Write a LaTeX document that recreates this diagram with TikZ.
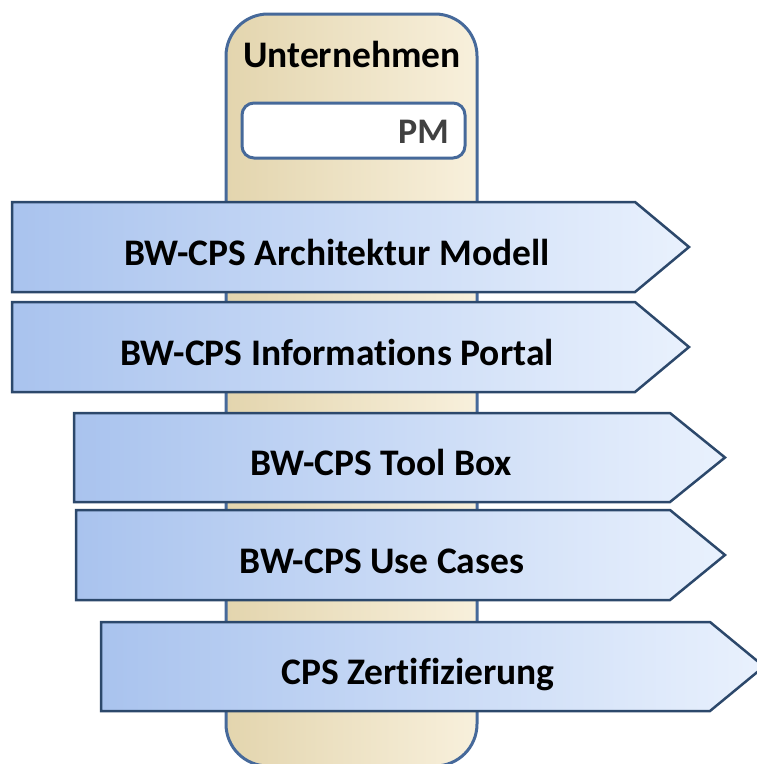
\documentclass[tikz,border=0pt]{standalone}
\usepackage{fontspec}
\setmainfont{Carlito}[Ligatures=NoCommon]
\definecolor{frameline}{HTML}{46699A}
\definecolor{barline}{HTML}{2C486B}
\definecolor{firmleft}{HTML}{E3D5AE}
\definecolor{firmright}{HTML}{F8F0DC}
\definecolor{barleft}{HTML}{A9C3EE}
\definecolor{barright}{HTML}{E9F1FD}
\definecolor{pmtext}{HTML}{404040}
\tikzset{
  firmbox/.style={draw=frameline, line width=3pt, left color=firmleft, right color=firmright,
    rounded corners=42pt},
  pmbox/.style={draw=frameline, line width=3pt, fill=white, rounded corners=12pt},
  stagebar/.style={draw=barline, line width=2.5pt, left color=barleft, right color=barright,
    line join=miter},
  stagetext/.style={font=\fontsize{37.5}{42}\selectfont\bfseries, anchor=base, inner sep=0pt}
}
% left, top, body end, tip, bottom
\newcommand{\stagearrow}[5]{%
  \draw[stagebar] (#1,#2) -- (#3,#2) -- (#4,{(#2+#5)/2}) -- (#3,#5) -- (#1,#5) -- cycle;}
\begin{document}
\begin{tikzpicture}[x=1pt,y=-1pt]
  \useasboundingbox (0,0) rectangle (757,764);
  % company column
  \begin{scope}
    \clip (0,0) rectangle (757,764);
    \draw[firmbox] (226,14) rectangle (477,766);
  \end{scope}
  \node[stagetext] (firm) at (352,67) {Unternehmen};
  \draw[pmbox] (242,103) rectangle (465,158);
  \node[stagetext, anchor=base east, text=pmtext, font=\fontsize{36}{40}\selectfont\bfseries]
    (pm) at (449,143) {PM};
  % stages
  \stagearrow{12}{202}{635}{689}{292}
  \node[stagetext] (arch) at (337,265) {BW-CPS Architektur Modell};
  \stagearrow{12}{302}{635}{689}{392}
  \node[stagetext] (portal) at (337,365) {BW-CPS Informations Portal};
  \stagearrow{74}{413}{670}{725}{502}
  \node[stagetext] (tools) at (381,475) {BW-CPS Tool Box};
  \stagearrow{76}{510}{670}{725}{600}
  \node[stagetext] (cases) at (382,573) {BW-CPS Use Cases};
  \stagearrow{101}{622}{710}{764}{711}
  \node[stagetext] (cert) at (418,684) {CPS Zertifizierung};
\end{tikzpicture}
\end{document}
